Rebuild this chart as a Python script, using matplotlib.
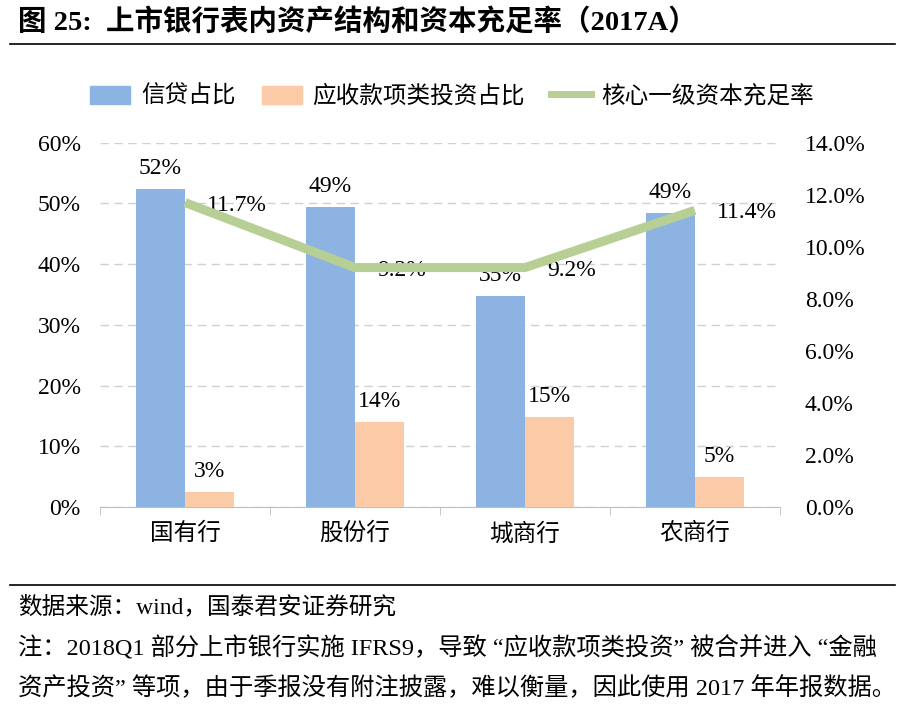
import matplotlib
matplotlib.use("Agg")
import matplotlib.pyplot as plt
import numpy as np
from matplotlib.patches import Patch
from matplotlib.lines import Line2D
from matplotlib.ticker import FuncFormatter

plt.rcParams['font.family'] = ['Liberation Serif', 'Noto Sans CJK SC', 'DejaVu Sans']

# data
banks = ["国有行", "股份行", "城商行", "农商行"]
loan_share = [52.4, 49.4, 34.8, 48.4]          # 信贷占比 (%)
receivable_share = [2.5, 14.0, 14.8, 4.9]      # 应收款项类投资占比 (%)
loan_labels = ["52%", "49%", "35%", "49%"]
receivable_labels = ["3%", "14%", "15%", "5%"]
core_tier1 = [11.7, 9.2, 9.2, 11.4]            # 核心一级资本充足率 (%)

blue = "#8DB3E2"
orange = "#FACBA6"
green = "#B7CF94"
cjk = ['Noto Sans CJK SC', 'Liberation Serif']

fig = plt.figure(figsize=(9.1, 7.1), dpi=100)
ax = fig.add_axes([0.110, 0.286, 0.747, 0.513])
ax2 = ax.twinx()

x = np.arange(len(banks))
w = 0.29
ax.bar(x - w / 2, loan_share, w, color=blue, zorder=3)
ax.bar(x + w / 2, receivable_share, w, color=orange, zorder=3)

for xi, v, s in zip(x, loan_share, loan_labels):
    ax.annotate(s, (xi - w / 2, v), xytext=(0, 7), textcoords="offset points",
                ha="center", va="bottom", fontsize=17)
for xi, v, s in zip(x, receivable_share, receivable_labels):
    ax.annotate(s, (xi + w / 2, v), xytext=(0, 7), textcoords="offset points",
                ha="center", va="bottom", fontsize=17)

ax.set_xlim(-0.5, len(banks) - 0.5)
ax.set_ylim(0, 60)
ax.set_yticks(np.arange(0, 61, 10))
ax.yaxis.set_major_formatter(FuncFormatter(lambda v, p: "%d%%" % v))
ax.set_xticks(x)
ax.set_xticklabels(banks, fontsize=17, family=cjk)
ax.set_xticks(np.arange(-0.5, len(banks), 1), minor=True)
ax.tick_params(axis="x", which="major", length=0, pad=11)
ax.tick_params(axis="x", which="minor", length=6, color="#BFBFBF", direction="out")
ax.tick_params(axis="y", length=0, labelsize=17, pad=14)
ax.grid(axis="y", color="#D0D0D0", linestyle=(0, (6, 4)), linewidth=1, zorder=0)
for sp in ["top", "left", "right"]:
    ax.spines[sp].set_visible(False)
    ax2.spines[sp].set_visible(False)
ax.spines["bottom"].set_color("#BFBFBF")
ax2.spines["bottom"].set_visible(False)

ax2.plot(x, core_tier1, color=green, linewidth=6.5, solid_capstyle="butt", zorder=4)
ax2.set_ylim(0, 14)
ax2.set_yticks(np.arange(0, 14.1, 2))
ax2.yaxis.set_major_formatter(FuncFormatter(lambda v, p: "%.1f%%" % v))
ax2.tick_params(axis="y", length=0, labelsize=17, pad=18)
for xi, v in zip(x, core_tier1):
    ax2.text(xi + 0.13, v - 0.1, "%.1f%%" % v, ha="left", va="center", fontsize=17)

handles = [Patch(color=blue), Patch(color=orange), Line2D([0], [0], color=green, linewidth=5)]
labels = ["信贷占比", "应收款项类投资占比", "核心一级资本充足率"]
fig.legend(handles, labels, loc="center", bbox_to_anchor=(0.497, 0.864), ncol=3,
           frameon=False, handlelength=1.7, handleheight=0.8,
           columnspacing=1.1, handletextpad=0.45, prop={'family': cjk, 'size': 17})

# title and notes
fig.text(0.02, 0.969, "图 25:  上市银行表内资产结构和资本充足率（2017A）",
         fontsize=20.5, fontweight="bold", va="center", ha="left")
fig.add_artist(Line2D([0.011, 0.984], [0.938, 0.938], color="black", linewidth=1.2))
fig.add_artist(Line2D([0.011, 0.984], [0.176, 0.176], color="black", linewidth=1.2))
fig.text(0.02, 0.145, "数据来源：wind，国泰君安证券研究", fontsize=17, va="center")
fig.text(0.02, 0.087, "注：2018Q1 部分上市银行实施 IFRS9，导致 “应收款项类投资” 被合并进入 “金融",
         fontsize=17.5, va="center")
fig.text(0.02, 0.031, "资产投资” 等项，由于季报没有附注披露，难以衡量，因此使用 2017 年年报数据。",
         fontsize=17.5, va="center")

fig.savefig("out.png", dpi=100)
